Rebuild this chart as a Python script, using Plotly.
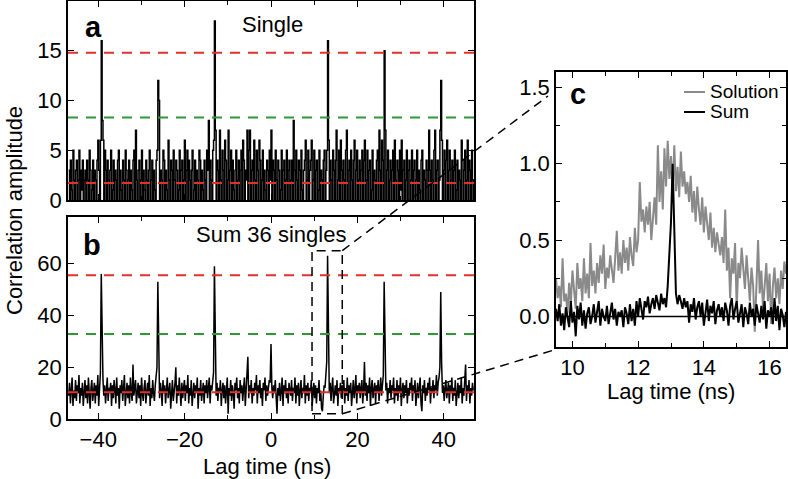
import plotly.graph_objects as go

# ---------------- data ----------------
# Panels a/b: uniform lag grid (13.1 ns / 66 per sample), centred on 0 ns
lag_step_ab = 0.19848
single_counts = [
    3,0,4,1,0,5,2,0,3,4,0,2,5,0,3,1,4,0,2,3,
    0,4,2,0,5,3,0,1,4,0,3,2,0,4,6,3,0,6,16,8,
    6,0,5,3,0,4,2,0,3,5,0,1,4,0,3,2,0,4,5,0,
    3,1,0,4,2,0,5,3,0,2,4,0,3,1,0,4,5,0,7,2,
    0,3,4,0,2,5,0,3,1,0,4,2,0,3,5,0,2,4,0,3,
    1,0,4,5,12,10,0,3,2,0,5,4,0,3,1,0,6,2,0,4,
    3,0,5,2,0,4,3,0,1,5,0,3,4,0,2,6,0,3,5,0,
    4,2,0,3,5,0,1,4,0,3,2,0,5,4,0,3,1,0,4,2,
    0,5,3,8,0,4,2,0,5,6,18,7,0,4,3,0,7,2,0,5,
    3,0,6,4,0,2,7,0,3,5,0,4,1,0,3,5,0,2,4,0,
    3,5,0,6,4,0,3,2,7,0,5,7,0,3,4,0,6,2,0,5,
    3,0,6,4,0,2,5,0,3,1,0,4,3,0,5,2,7,0,4,3,
    0,5,2,0,4,3,0,1,5,0,3,4,0,2,5,0,3,4,0,2,
    4,0,8,3,0,5,2,0,4,3,0,5,1,0,3,4,6,0,2,5,
    0,3,4,6,0,2,5,0,3,4,0,1,5,0,3,2,0,4,5,0,
    3,5,16,6,0,4,2,0,5,3,0,4,7,0,2,5,0,6,3,0,
    4,2,0,5,7,0,3,4,0,5,2,0,4,6,0,3,5,0,2,4,
    0,3,5,0,4,6,0,2,5,0,3,4,0,1,5,0,3,2,0,4,
    5,0,7,3,0,6,4,0,15,7,0,3,5,0,2,4,0,3,5,0,
    6,2,0,4,3,0,5,1,6,0,3,4,0,2,5,0,3,4,0,2,
    5,0,3,4,0,2,5,0,3,1,0,4,5,0,3,2,0,4,3,0,
    7,3,0,4,2,0,5,7,0,3,4,0,2,7,12,6,0,3,5,0,
    4,6,0,3,5,0,2,4,0,3,5,0,1,4,0,3,2,0,6,4,
    0,3,5,0,2,6,0,4,3,0,5,2,0,
]
sum36_counts = [
    9,14,6,12,16,5,11,8,15,7,13,10,17,6,12,9,14,5,11,15,
    8,13,6,16,10,4,12,15,7,11,14,6,13,9,17,5,12,18,56,22,
    15,9,13,6,11,16,7,12,10,14,5,13,8,15,11,6,16,9,12,4,
    13,10,15,7,12,17,5,11,14,8,13,6,16,10,7,21,9,12,15,6,
    11,14,8,13,5,16,10,7,12,15,6,11,14,9,17,5,12,8,15,10,
    7,13,17,20,53,19,8,14,11,5,15,10,13,6,12,16,8,11,14,4,
    12,15,7,10,14,20,6,13,9,16,11,5,14,8,12,15,7,13,10,17,
    6,12,9,15,5,11,14,8,13,10,16,4,12,9,15,7,11,14,6,13,
    10,15,8,12,16,6,13,11,15,18,59,17,9,14,7,12,10,15,5,11,
    14,8,13,6,11,16,2,12,9,15,7,13,10,4,14,11,16,8,12,6,
    15,10,13,7,12,16,5,11,14,24,8,13,10,15,6,12,9,14,11,17,
    6,13,10,15,8,12,5,14,11,16,7,13,9,12,15,14,29,12,8,13,
    10,15,6,2,12,9,14,7,11,16,5,13,10,15,8,12,6,14,11,9,
    15,7,12,10,16,6,13,9,14,5,11,15,8,12,10,17,6,13,9,14,
    7,12,10,15,5,11,14,8,13,6,12,10,15,7,11,4,3,9,13,12,
    16,22,63,19,10,14,7,12,16,6,11,13,9,15,5,12,10,14,8,13,
    11,15,6,12,9,16,7,13,10,14,5,12,15,8,11,17,6,13,10,14,
    8,12,15,6,11,22,9,14,7,13,10,16,5,12,15,8,11,14,6,13,
    10,15,7,12,16,9,14,17,53,25,11,14,6,12,10,15,8,13,11,16,
    6,12,9,15,7,13,10,16,5,11,14,8,13,10,15,6,12,9,14,11,
    16,7,13,10,15,5,12,14,8,11,16,6,3,13,10,15,7,12,9,14,
    11,16,6,12,10,15,8,13,11,17,9,14,16,20,49,22,10,13,7,12,
    15,8,11,14,6,13,10,16,7,12,9,15,5,11,14,8,13,10,16,6,
    12,9,14,21,7,13,10,15,6,12,9,14,11,
]
# Panel c: lag grid from 9.5 ns, 0.05 ns per sample
lag_start_c = 9.5
lag_step_c = 0.05
solution_c = [
    0.25,0.12,0.2,0.06,0.38,0.1,0.15,0.02,0.22,0.08,0.3,0.14,0.05,0.35,0.18,0.25,0.1,0.38,0.15,0.28,
    0.12,0.48,0.2,0.3,0.15,0.35,0.22,0.4,0.28,0.47,0.18,0.32,0.25,0.4,0.3,0.22,0.38,0.56,0.3,0.42,
    0.28,0.5,0.35,0.45,0.3,0.52,0.4,0.33,0.58,0.42,0.5,0.88,0.62,0.7,0.55,0.72,0.6,0.75,0.5,0.68,
    0.78,0.6,1.12,0.75,0.95,0.7,1.1,0.85,1.15,0.9,1.05,0.8,1.12,0.82,0.98,0.78,1.08,0.85,0.95,0.8,
    0.88,0.75,0.92,0.68,0.82,0.62,0.85,0.7,0.6,0.78,0.55,0.72,0.6,0.5,0.68,0.45,0.58,0.42,0.55,0.48,
    0.4,0.52,0.35,0.7,0.3,0.45,0.12,0.38,0.28,0.48,0.05,0.35,0.25,0.45,0.3,0.18,0.4,0.22,0.1,0.32,
    0.2,-0.1,0.25,0.5,0.15,0.3,0.05,0.22,0.35,0.1,0.28,-0.05,0.2,0.32,0.12,0.25,0.08,0.3,0.18,0.36,0.28,
]
sum_c = [
    0.05,-0.03,0.08,-0.06,0.02,-0.09,0.06,0.0,-0.07,0.1,-0.04,0.03,-0.13,0.07,-0.02,0.09,-0.06,0.04,-0.08,0.02,
    0.06,-0.05,0.0,0.08,-0.04,0.03,0.1,-0.06,0.05,0.0,-0.03,0.07,-0.05,0.02,0.09,-0.02,0.05,-0.06,0.03,0.0,
    0.04,-0.07,0.06,0.02,-0.05,0.08,-0.03,0.05,-0.06,0.1,0.0,0.12,0.04,-0.02,0.1,0.06,0.13,0.02,0.08,0.12,
    0.05,0.14,0.09,0.04,0.15,0.08,0.12,0.06,0.2,0.4,0.62,1.0,0.55,0.15,0.08,0.14,0.1,0.05,0.12,0.06,
    0.1,-0.04,0.08,0.03,0.12,-0.02,0.06,0.1,0.0,0.09,-0.06,0.05,0.11,-0.03,0.07,0.02,0.1,-0.05,0.04,0.08,
    0.0,0.06,-0.03,0.09,0.04,-0.06,0.07,0.12,-0.02,0.05,0.1,-0.04,0.03,0.08,-0.07,0.06,0.02,-0.05,0.09,0.0,
    0.05,-0.06,0.08,0.02,-0.04,0.07,-0.02,0.1,-0.08,0.04,0.0,0.06,-0.05,0.12,-0.03,0.07,-0.09,0.05,0.01,-0.07,0.03,
]
thresholds_a = {"red": [14.8, 1.7], "green": [8.3]}
thresholds_b = {"red": [55.5, 10.3], "green": [32.8]}
zoom_box = {"x": [9.5, 16.5], "y": [2, 65]}

# ---------------- layout helpers ----------------
W, H = 788, 479
FONT = "Liberation Sans, Arial, Helvetica, sans-serif"
RED = "#e3302b"
GREEN = "#2f9a35"
GRAY = "#8a8a8a"


def px(x):
    return x / W


def py(y):
    return 1 - y / H


def centred_lags(n, step):
    mid = (n - 1) // 2
    return [(i - mid) * step for i in range(n)]


lag_a = centred_lags(len(single_counts), lag_step_ab)
lag_b = centred_lags(len(sum36_counts), lag_step_ab)
lag_c = [lag_start_c + k * lag_step_c for k in range(len(solution_c))]
lag_c2 = [lag_start_c + k * lag_step_c for k in range(len(sum_c))]

dom_x_ab = [px(68), px(474)]
dom_y_a = [py(200), py(1)]
dom_y_b = [py(419), py(217)]
dom_x_c = [px(556), px(786)]
dom_y_c = [py(347), py(72)]
rng_x_ab = [-47, 47]
rng_y_a = [0, 20]
rng_y_b = [0, 78]
rng_x_c = [9.5, 16.5]
rng_y_c = [-0.2, 1.6]

fig = go.Figure()
fig.add_trace(go.Scatter(x=lag_a, y=single_counts, mode="lines", line=dict(color="black", width=1.5, shape="hv"),
                         xaxis="x", yaxis="y", showlegend=False, hoverinfo="skip"))
fig.add_trace(go.Scatter(x=lag_b, y=sum36_counts, mode="lines", line=dict(color="black", width=1.5),
                         xaxis="x2", yaxis="y2", showlegend=False, hoverinfo="skip"))
fig.add_trace(go.Scatter(x=lag_c, y=solution_c, mode="lines", line=dict(color=GRAY, width=2),
                         xaxis="x3", yaxis="y3", name="Solution", showlegend=False, hoverinfo="skip"))
fig.add_trace(go.Scatter(x=lag_c2, y=sum_c, mode="lines", line=dict(color="black", width=2),
                         xaxis="x3", yaxis="y3", name="Sum", showlegend=False, hoverinfo="skip"))

tickfont = dict(family=FONT, size=22, color="black")
axis_common = dict(showline=True, linecolor="black", linewidth=1.5, mirror="ticks", ticks="inside",
                   tickcolor="black", tickwidth=1.2, ticklen=6, showgrid=False, zeroline=False,
                   tickfont=tickfont, automargin=False)

fig.update_layout(
    width=W, height=H, margin=dict(l=0, r=0, t=0, b=0, autoexpand=False),
    paper_bgcolor="white", plot_bgcolor="white",
    font=dict(family=FONT, color="black"),
    xaxis=dict(domain=dom_x_ab, range=rng_x_ab, anchor="y", tickvals=[-40, -20, 0, 20, 40],
               showticklabels=False, minor=dict(dtick=10, tick0=0, ticks="inside", ticklen=4, tickcolor="black"),
               **axis_common),
    yaxis=dict(domain=dom_y_a, range=rng_y_a, anchor="x", tickvals=[0, 5, 10, 15], **axis_common),
    xaxis2=dict(domain=dom_x_ab, range=rng_x_ab, anchor="y2", tickvals=[-40, -20, 0, 20, 40],
                ticktext=["\u221240", "\u221220", "0", "20", "40"],
                minor=dict(dtick=10, tick0=0, ticks="inside", ticklen=4, tickcolor="black"),
                **axis_common),
    yaxis2=dict(domain=dom_y_b, range=rng_y_b, anchor="x2", tickvals=[0, 20, 40, 60], **axis_common),
    xaxis3=dict(domain=dom_x_c, range=rng_x_c, anchor="y3", tickvals=[10, 12, 14, 16],
                minor=dict(dtick=1, tick0=0, ticks="inside", ticklen=4, tickcolor="black"),
                **axis_common),
    yaxis3=dict(domain=dom_y_c, range=rng_y_c, anchor="x3", tickvals=[0, 0.5, 1.0, 1.5],
                ticktext=["0.0", "0.5", "1.0", "1.5"],
                minor=dict(dtick=0.25, tick0=0, ticks="inside", ticklen=4, tickcolor="black"),
                **axis_common),
)

shapes = []
for color, vals in thresholds_a.items():
    for v in vals:
        shapes.append(dict(type="line", xref="x domain", yref="y", x0=0, x1=1, y0=v, y1=v,
                           line=dict(color=RED if color == "red" else GREEN, width=2, dash="10px,8px")))
for color, vals in thresholds_b.items():
    for v in vals:
        shapes.append(dict(type="line", xref="x2 domain", yref="y2", x0=0, x1=1, y0=v, y1=v,
                           line=dict(color=RED if color == "red" else GREEN, width=2, dash="10px,8px")))
# zero line in panel c
shapes.append(dict(type="line", xref="x3 domain", yref="y3", x0=0, x1=1, y0=0, y1=0,
                   line=dict(color="black", width=1.5)))
# zoom box in panel b
shapes.append(dict(type="rect", xref="x2", yref="y2", x0=zoom_box["x"][0], x1=zoom_box["x"][1],
                   y0=zoom_box["y"][0], y1=zoom_box["y"][1],
                   line=dict(color="black", width=1.5, dash="9px,6px")))


def b_to_paper(x, y):
    fx = dom_x_ab[0] + (x - rng_x_ab[0]) / (rng_x_ab[1] - rng_x_ab[0]) * (dom_x_ab[1] - dom_x_ab[0])
    fy = dom_y_b[0] + (y - rng_y_b[0]) / (rng_y_b[1] - rng_y_b[0]) * (dom_y_b[1] - dom_y_b[0])
    return fx, fy


tr = b_to_paper(zoom_box["x"][1], zoom_box["y"][1])
br = b_to_paper(zoom_box["x"][1], zoom_box["y"][0])
shapes.append(dict(type="line", xref="paper", yref="paper", x0=tr[0], y0=tr[1], x1=px(548), y1=py(96),
                   line=dict(color="black", width=1.5, dash="9px,6px")))
shapes.append(dict(type="line", xref="paper", yref="paper", x0=br[0], y0=br[1], x1=px(554), y1=py(350),
                   line=dict(color="black", width=1.5, dash="9px,6px")))
# legend keys (panel c)
shapes.append(dict(type="line", xref="paper", yref="paper", x0=px(684), x1=px(705), y0=py(92), y1=py(92),
                   line=dict(color=GRAY, width=2)))
shapes.append(dict(type="line", xref="paper", yref="paper", x0=px(684), x1=px(705), y0=py(112), y1=py(112),
                   line=dict(color="black", width=2)))
fig.update_layout(shapes=shapes)


def ann(text, x, y, size=22, bold=False, xanchor="center", angle=0):
    return dict(text=("<b>%s</b>" % text) if bold else text, x=px(x), y=py(y), xref="paper", yref="paper",
                showarrow=False, xanchor=xanchor, yanchor="middle", textangle=angle,
                font=dict(family=FONT, size=size, color="black"))


fig.update_layout(annotations=[
    ann("a", 93, 27, size=29, bold=True),
    ann("b", 92, 245, size=29, bold=True),
    ann("c", 578, 94, size=29, bold=True),
    ann("Single", 272, 24),
    ann("Sum 36 singles", 271, 234),
    ann("Lag time (ns)", 267, 466),
    ann("Lag time (ns)", 671, 391),
    ann("Correlation amplitude", 14, 211, angle=-90),
    ann("Solution", 708, 91, size=19, xanchor="left"),
    ann("Sum", 708, 111, size=19, xanchor="left"),
])

fig.write_html("out.html", config={"displayModeBar": False},
               post_script="document.body.style.margin='0';document.body.style.overflow='hidden';")
